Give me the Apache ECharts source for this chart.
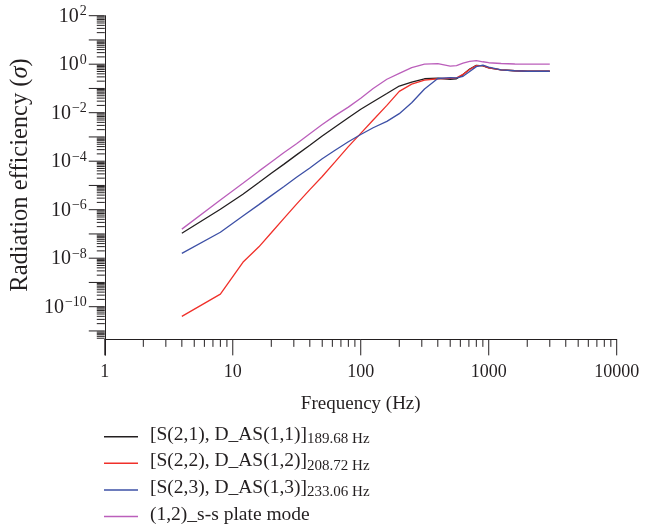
<!DOCTYPE html>
<html><head><meta charset="utf-8">
<script src="https://cdn.jsdelivr.net/npm/echarts@6/dist/echarts.min.js"></script>
<style>html,body{margin:0;padding:0;background:#fff}#c{width:645px;height:529px}</style>
</head><body><div id="c"></div>
<script>
// ---- data ----
const frequencies = [4, 8, 12, 16, 20, 25, 31.5, 40, 50, 63, 80, 100, 125, 160, 200, 250, 315, 400, 500, 560, 630, 710, 800, 900, 1000, 1250, 1600, 2000, 2500, 3000];
const sigmaS21 = [1.07e-7, 1.05e-6, 4.37e-6, 1.32e-5, 3.16e-5, 7.41e-5, 1.82e-4, 4.57e-4, 1.10e-3, 2.57e-3, 6.17e-3, 1.38e-2, 2.82e-2, 6.17e-2, 0.126, 0.182, 0.251, 0.263, 0.240, 0.251, 0.372, 0.631, 0.891, 0.851, 0.708, 0.589, 0.537, 0.513, 0.513, 0.513];
const sigmaS22 = [3.98e-11, 3.31e-10, 6.76e-9, 2.95e-8, 1.12e-7, 4.27e-7, 1.70e-6, 6.76e-6, 2.34e-5, 9.33e-5, 3.98e-4, 1.41e-3, 5.01e-3, 2.0e-2, 7.59e-2, 0.151, 0.219, 0.251, 0.263, 0.275, 0.380, 0.603, 0.871, 0.871, 0.708, 0.589, 0.537, 0.513, 0.513, 0.513];
const sigmaS23 = [1.58e-8, 1.17e-7, 5.50e-7, 1.62e-6, 3.80e-6, 8.91e-6, 2.19e-5, 5.25e-5, 1.26e-4, 2.82e-4, 6.31e-4, 1.26e-3, 2.40e-3, 4.37e-3, 9.12e-3, 2.57e-2, 9.55e-2, 0.257, 0.282, 0.275, 0.316, 0.501, 0.794, 0.912, 0.759, 0.589, 0.537, 0.513, 0.513, 0.513];
const sigmaPlate12 = [1.58e-7, 2.51e-6, 1.23e-5, 3.89e-5, 9.33e-5, 2.24e-4, 5.25e-4, 1.35e-3, 3.24e-3, 7.59e-3, 1.70e-2, 3.98e-2, 0.100, 0.240, 0.417, 0.724, 1.00, 1.05, 0.832, 0.871, 1.10, 1.32, 1.41, 1.26, 1.15, 1.07, 1.02, 1.00, 1.00, 1.00];

const seriesKeys = ['s21', 's22', 's23', 'plate'];
const legendMain = ['[S(2,1), D_AS(1,1)]', '[S(2,2), D_AS(1,2)]', '[S(2,3), D_AS(1,3)]', '(1,2)_s-s plate mode'];
const legendSub = ['189.68 Hz', '208.72 Hz', '233.06 Hz', ''];
const seriesColors = ['#231f20', '#f0302a', '#3d50a6', '#bb5fbb'];
const seriesValues = [sigmaS21, sigmaS22, sigmaS23, sigmaPlate12];

const xMin = 1, xMax = 10000;
const yMin = 1e-12, yMax = 100;
const xAxisCrossAt = 4.5e-12;   // y value where the frequency axis line sits
const xTickLabels = ['1', '10', '100', '1000', '10000'];

// ---- tick marks (axis decoration) ----
const tickData = [];
for (let e = 0; e <= 4; e++) {
  tickData.push([Math.pow(10, e), xAxisCrossAt, 16, 0]);
  if (e < 4) for (let k = 2; k <= 9; k++) tickData.push([k * Math.pow(10, e), xAxisCrossAt, 7.5, 0]);
}
for (let e = -12; e <= 2; e++) {
  const v = Math.pow(10, e);
  if (v >= xAxisCrossAt) tickData.push([xMin, v, 16, 1]);
  if (e < 2) for (let k = 2; k <= 9; k++) { const m = k * v; if (m >= xAxisCrossAt) tickData.push([xMin, m, 8, 1]); }
}

const FONT = '"Liberation Serif", "Times New Roman", serif';
const TXT = '#231f20';

const chart = echarts.init(document.getElementById('c'), null, {renderer: 'canvas'});

const option = {
  animation: false,
  backgroundColor: '#fff',
  grid: {left: 104.3, right: 28.3, top: 15.7, bottom: 173.8, containLabel: false},
  xAxis: {
    type: 'log', logBase: 10, min: xMin, max: xMax, interval: 1,
    name: 'Frequency (Hz)', nameLocation: 'middle', nameGap: 55,
    nameTextStyle: {fontFamily: FONT, fontSize: 19, color: TXT},
    axisLine: {lineStyle: {color: TXT, width: 1}},
    axisTick: {show: false}, minorTick: {show: false},
    splitLine: {show: false},
    axisLabel: {fontFamily: FONT, fontSize: 18, color: TXT, margin: 24,
      formatter: v => { const e = Math.round(Math.log10(v)); return xTickLabels[e] !== undefined ? xTickLabels[e] : ''; }}
  },
  yAxis: {
    type: 'log', logBase: 10, min: yMin, max: yMax, interval: 2,
    name: '{a|Radiation efficiency (}{i|σ}{a|)}', nameLocation: 'middle', nameGap: 68,
    nameTextStyle: {padding: [0, 0, 0, 21], rich: {
      a: {fontFamily: FONT, fontSize: 24.5, color: TXT},
      i: {fontFamily: FONT, fontSize: 24.5, color: TXT, fontStyle: 'italic'}}},
    axisLine: {lineStyle: {color: TXT, width: 1}},
    axisTick: {show: false}, minorTick: {show: false},
    splitLine: {show: false},
    axisLabel: {margin: 18,
      formatter: v => { const e = Math.round(Math.log10(v)); if (e <= -12) return ''; return '{b|10}{s|' + (e < 0 ? '\u2212' + (-e) : e) + '}'; },
      rich: {
        b: {fontFamily: FONT, fontSize: 20, color: TXT, lineHeight: 22, verticalAlign: 'bottom', padding: [0, 1, 0, 0]},
        s: {fontFamily: FONT, fontSize: 14, color: TXT, lineHeight: 14, verticalAlign: 'top'}
      }}
  },
  legend: {
    show: true, type: 'plain', orient: 'vertical', left: 104, top: 424.7, padding: 0,
    itemWidth: 34, itemHeight: 1.5, itemGap: 4.6, icon: 'rect',
    data: seriesKeys,
    formatter: name => { const i = seriesKeys.indexOf(name); return '{m|' + legendMain[i] + '}' + (legendSub[i] ? '{u|' + legendSub[i] + '}' : ''); },
    textStyle: {padding: [0, 0, 0, 7], rich: {
      m: {fontFamily: FONT, fontSize: 19.5, color: TXT, lineHeight: 20, verticalAlign: 'bottom', padding: [0, 0, 2, 0]},
      u: {fontFamily: FONT, fontSize: 15, color: TXT, lineHeight: 15, verticalAlign: 'bottom'}
    }}
  },
  series: seriesKeys.map((k, i) => ({
    name: k, type: 'line', symbol: 'none', showSymbol: false,
    color: seriesColors[i],
    lineStyle: {color: seriesColors[i], width: 1.3},
    data: frequencies.map((f, j) => [f, seriesValues[i][j]]),
    z: 3
  })).concat([{
    type: 'custom', silent: true, clip: false, z: 6,
    data: tickData,
    renderItem: (params, api) => {
      const p = api.coord([api.value(0), api.value(1)]);
      const len = api.value(2);
      const isY = api.value(3) === 1;
      const shape = isY ? {x1: p[0] - len, y1: p[1], x2: p[0], y2: p[1]} : {x1: p[0], y1: p[1], x2: p[0], y2: p[1] + len};
      return {type: 'line', shape: shape, style: {stroke: TXT, lineWidth: 1}};
    }
  }])
};
chart.setOption(option);
// move the frequency axis line up to where sigma = xAxisCrossAt
const bottomPx = chart.convertToPixel({gridIndex: 0}, [xMin, yMin])[1];
const crossPx = chart.convertToPixel({gridIndex: 0}, [xMin, xAxisCrossAt])[1];
chart.setOption({xAxis: {offset: crossPx - bottomPx}});
</script></body></html>
